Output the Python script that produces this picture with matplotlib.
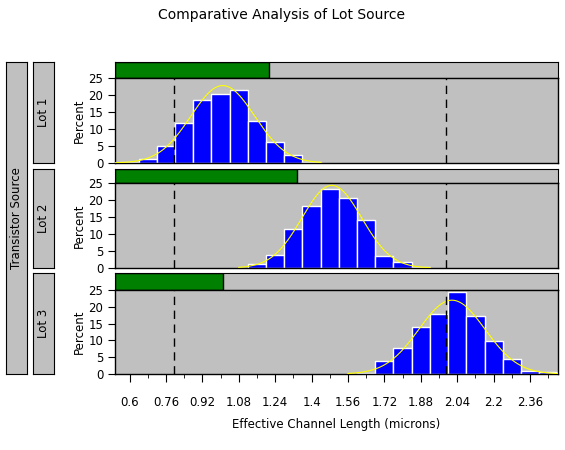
import numpy as np
import matplotlib
matplotlib.use("Agg")
import matplotlib.pyplot as plt
from matplotlib.patches import Rectangle

lots = ["Lot 1", "Lot 2", "Lot 3"]
lot1_mid = [0.60, 0.68, 0.76, 0.84, 0.92, 1.00, 1.08, 1.16, 1.24, 1.32, 1.40]
lot1_pct = [0.3, 1.2, 5.0, 11.8, 18.5, 20.3, 21.5, 12.4, 6.2, 2.4, 0.2]
lot2_mid = [1.16, 1.24, 1.32, 1.40, 1.48, 1.56, 1.64, 1.72, 1.80, 1.88]
lot2_pct = [1.2, 3.9, 11.5, 18.2, 23.2, 20.6, 14.1, 3.6, 1.8, 0.4]
lot3_mid = [1.64, 1.72, 1.80, 1.88, 1.96, 2.04, 2.12, 2.20, 2.28, 2.36, 2.44]
lot3_pct = [0.4, 3.9, 7.6, 13.9, 17.9, 24.3, 17.2, 9.8, 4.4, 1.0, 0.6]
green_frac = [0.348, 0.41, 0.244]
lsl, usl = 0.795, 1.99
xticks = [0.6, 0.76, 0.92, 1.08, 1.24, 1.4, 1.56, 1.72, 1.88, 2.04, 2.2, 2.36]
xticklabels = ["0.6", "0.76", "0.92", "1.08", "1.24", "1.4", "1.56", "1.72", "1.88", "2.04", "2.2", "2.36"]
yticks = [0, 5, 10, 15, 20, 25]
binw = 0.08
xmin, xmax = 0.536, 2.483

W, H = 565, 450
fig = plt.figure(figsize=(W/100, H/100), dpi=100)
plt.rcParams['font.family'] = 'DejaVu Sans'
fs = 8.5

def ax_px(x0, y0, x1, y1):
    return fig.add_axes([x0/W, 1-y1/H, (x1-x0)/W, (y1-y0)/H])

fig.text(282/W, 1-15/H, "Comparative Analysis of Lot Source", ha='center', va='center', fontsize=10)

panels = [(62, 78, 163), (169, 183, 268), (273, 290, 374)]
data = [(lot1_mid, lot1_pct), (lot2_mid, lot2_pct), (lot3_mid, lot3_pct)]
gray = '#c0c0c0'

ob = ax_px(6, 62, 27, 374)
ob.set_facecolor(gray); ob.set_xticks([]); ob.set_yticks([])
ob.text(0.5, 0.5, "Transistor Source", rotation=90, ha='center', va='center', fontsize=fs, transform=ob.transAxes)

for i, (top, sb, bot) in enumerate(panels):
    lb = ax_px(33, top, 54, bot)
    lb.set_facecolor(gray); lb.set_xticks([]); lb.set_yticks([])
    lb.text(0.5, 0.5, lots[i], rotation=90, ha='center', va='center', fontsize=fs, transform=lb.transAxes)

    st = ax_px(115, top, 558, sb)
    st.set_facecolor(gray); st.set_xlim(0, 1); st.set_ylim(0, 1)
    st.set_xticks([]); st.set_yticks([])
    st.add_patch(Rectangle((0, 0), green_frac[i], 1, facecolor='#008000', edgecolor='black', lw=1))

    ax = ax_px(115, sb, 558, bot)
    ax.set_facecolor(gray)
    mids, pct = data[i]
    ax.bar(mids, pct, width=binw, color='#0000ff', edgecolor='white', lw=1, zorder=2)
    m = np.array(mids); p = np.array(pct)
    mu = np.sum(m*p)/np.sum(p)
    sd = np.sqrt(np.sum(p*(m-mu)**2)/np.sum(p))
    xs = np.linspace(m[0]-binw, m[-1]+binw/2, 300)
    ys = 100*binw*np.exp(-0.5*((xs-mu)/sd)**2)/(sd*np.sqrt(2*np.pi))
    ax.plot(xs, ys, color='yellow', lw=0.8, zorder=3)
    for v in (lsl, usl):
        ax.axvline(v, color='black', ls=(0, (6, 4)), lw=1, zorder=4)
    ax.set_xlim(xmin, xmax); ax.set_ylim(0, 25)
    ax.set_yticks(yticks)
    ax.tick_params(axis='y', labelsize=fs, length=5, direction='out')
    ax.set_ylabel("Percent", fontsize=fs, labelpad=2)
    ax.set_xticks(xticks)
    ax.set_xticklabels(xticklabels)
    ax.set_xticks(np.round(np.array(xticks)+0.08, 2), minor=True)
    if i < 2:
        ax.tick_params(axis='x', which='both', bottom=False, labelbottom=False)
    else:
        ax.tick_params(axis='x', which='major', labelsize=fs, length=6, pad=10)
        ax.tick_params(axis='x', which='minor', length=3)
        ax.set_xlabel("Effective Channel Length (microns)", fontsize=fs, labelpad=6)
    for s in ax.spines.values():
        s.set_linewidth(1)

fig.savefig("out.png", dpi=100)
